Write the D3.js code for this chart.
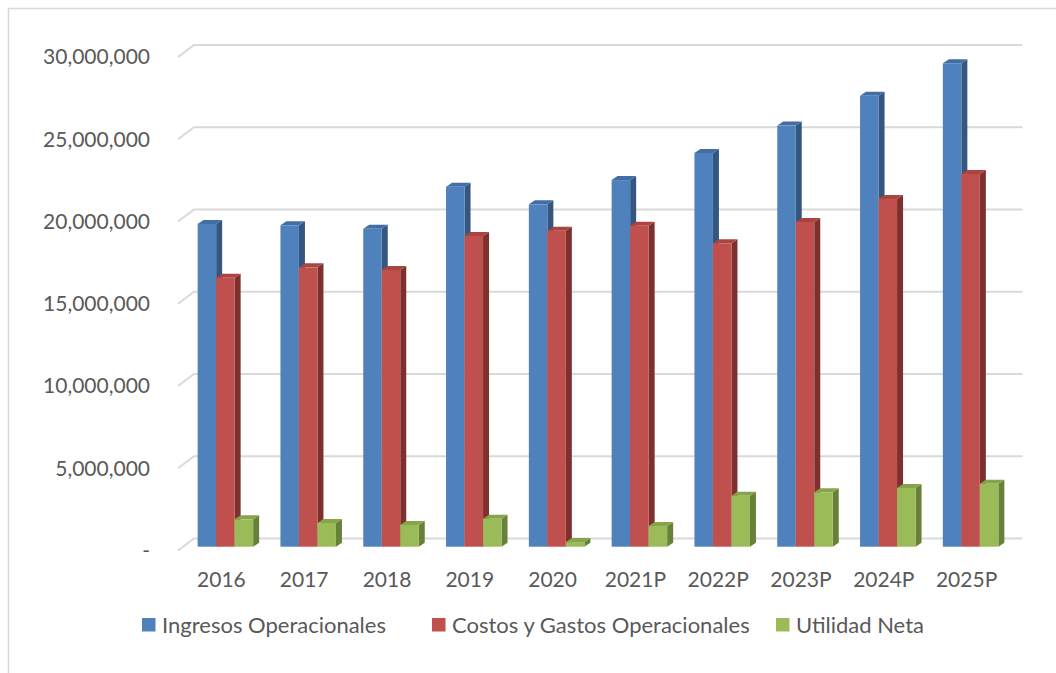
<!DOCTYPE html>
<html>
<head>
<meta charset="utf-8">
<script src="https://cdn.jsdelivr.net/npm/d3@7"></script>
<style>
  body { margin: 0; background: #fff; }
  svg text { font-family: Lato, "Open Sans", sans-serif; fill: #595959; }
</style>
</head>
<body>
<svg id="chart" width="1056" height="673"></svg>
<script>
// data
var categories = ["2016", "2017", "2018", "2019", "2020", "2021P", "2022P", "2023P", "2024P", "2025P"];
var seriesNames = ["Ingresos Operacionales", "Costos y Gastos Operacionales", "Utilidad Neta"];
var ingresos = [19560000, 19480000, 19270000, 21820000, 20750000, 22220000, 23860000, 25520000, 27330000, 29300000];
var costos   = [16300000, 16930000, 16770000, 18830000, 19150000, 19450000, 18390000, 19680000, 21070000, 22590000];
var utilidad = [1660000, 1440000, 1320000, 1700000, 280000, 1250000, 3090000, 3300000, 3560000, 3820000];
var yTicks = [0, 5000000, 10000000, 15000000, 20000000, 25000000, 30000000];

var front = ["#4f81bd", "#c0504d", "#9bbb59"];
var side  = ["#34567f", "#7d302e", "#67803a"];
var top_  = ["#426ea3", "#a94441", "#86a54a"];

var svg = d3.select("#chart");

// outer chart border (only top / left visible)
svg.append("path")
    .attr("d", "M8.5,673 L8.5,8.5 L1056,8.5")
    .attr("fill", "none")
    .attr("stroke", "#d9d9d9")
    .attr("stroke-width", 1.5);

// back wall scale for gridlines, front scale for bars
var yGrid = d3.scaleLinear().domain([0, 30000000]).range([538.5, 45]);
var y = d3.scaleLinear().domain([0, 30000000]).range([546.7, 51.7]);

var x = d3.scaleBand().domain(categories).range([184, 1012]).padding(0);
var xs = d3.scaleBand().domain(seriesNames).range([0, 55.5]);

var depthX = 16, depthY = 12;   // wall depth
var bx = 6, by = 4;             // bar depth

// gridlines
var grid = svg.append("g");
yTicks.forEach(function(t) {
    var yb = yGrid(t);
    grid.append("path")
        .attr("d", "M178," + (yb + depthY) + " L194," + yb + " L1022.5," + yb)
        .attr("fill", "none")
        .attr("stroke", "#d9d9d9")
        .attr("stroke-width", 2);
});

// y labels
var yFmt = d3.format(",");
svg.append("g").selectAll("text")
    .data(yTicks)
    .enter().append("text")
    .attr("x", 150)
    .attr("y", function(d) { return yGrid(d) + depthY; })
    .attr("dy", "0.35em")
    .attr("text-anchor", "end")
    .style("font-size", "21px")
    .text(function(d) { return d === 0 ? "-" : yFmt(d); });

// bars
var allSeries = [ingresos, costos, utilidad];
var bars = svg.append("g");
categories.forEach(function(c, i) {
    var x0 = x(c) + x.bandwidth() / 2 - 27.75;
    allSeries.forEach(function(vals, s) {
        var l = x0 + xs(seriesNames[s]);
        var r = l + xs.bandwidth();
        var t = y(vals[i]);
        var b = y(0);
        var g = bars.append("g");
        // side
        g.append("path")
            .attr("d", "M" + r + "," + b + " L" + (r + bx) + "," + (b - by) + " L" + (r + bx) + "," + (t - by) + " L" + r + "," + t + "Z")
            .attr("fill", side[s]);
        // top
        g.append("path")
            .attr("d", "M" + l + "," + t + " L" + (l + bx) + "," + (t - by) + " L" + (r + bx) + "," + (t - by) + " L" + r + "," + t + "Z")
            .attr("fill", top_[s]);
        // front
        g.append("rect")
            .attr("x", l)
            .attr("y", t)
            .attr("width", r - l)
            .attr("height", b - t)
            .attr("fill", front[s]);
    });
});

// x labels
svg.append("g").selectAll("text")
    .data(categories)
    .enter().append("text")
    .attr("x", function(d) { return x(d) + x.bandwidth() / 2 - 4; })
    .attr("y", 580)
    .attr("dy", "0.35em")
    .attr("text-anchor", "middle")
    .style("font-size", "21px")
    .text(function(d) { return d; });

// legend
var legendX = [142, 432, 776];
var legend = svg.append("g");
seriesNames.forEach(function(n, s) {
    legend.append("rect")
        .attr("x", legendX[s])
        .attr("y", 618)
        .attr("width", 13.5)
        .attr("height", 13.5)
        .attr("fill", front[s]);
    legend.append("text")
        .attr("x", legendX[s] + 20)
        .attr("y", 625)
        .attr("dy", "0.35em")
        .style("font-size", "22px")
        .text(n);
});
</script>
</body>
</html>
